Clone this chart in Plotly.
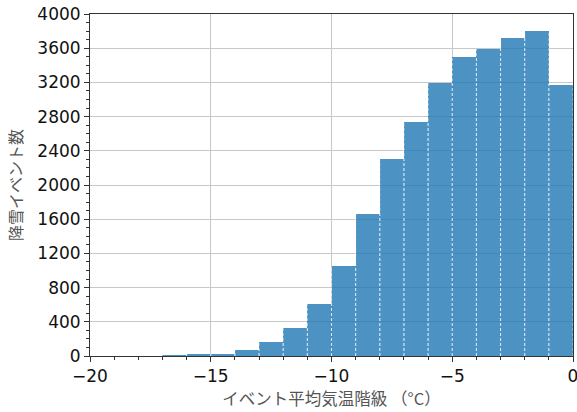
import plotly.graph_objects as go

bin_left = [-20, -19, -18, -17, -16, -15, -14, -13, -12, -11,
            -10, -9, -8, -7, -6, -5, -4, -3, -2, -1]
counts = [0, 0, 2, 10, 25, 28, 75, 160, 325, 605,
          1050, 1660, 2300, 2735, 3190, 3500, 3595, 3720, 3805, 3175]
y_ticks = list(range(0, 4001, 400))
x_ticks = [-20, -15, -10, -5, 0]

bar_color = "rgba(31,119,180,0.8)"

fig = go.Figure()
fig.add_trace(go.Bar(
    x=[b + 0.5 for b in bin_left], y=counts, width=1,
    marker=dict(color=bar_color, line=dict(width=0)),
    hoverinfo="skip", showlegend=False,
))

# dashed light bar edges
ex, ey = [], []
for i, b in enumerate(bin_left):
    if counts[i] <= 0:
        continue
    for e in (b, b + 1):
        ex += [e, e, None]
        ey += [0, counts[i], None]
fig.add_trace(go.Scatter(
    x=ex, y=ey, mode="lines",
    line=dict(color="rgba(255,255,255,0.55)", width=1, dash="3px,2px"),
    hoverinfo="skip", showlegend=False,
))

fig.update_layout(
    width=577, height=412,
    margin=dict(l=90, r=4, t=14, b=56),
    paper_bgcolor="white", plot_bgcolor="white",
    bargap=0,
    font=dict(family="DejaVu Sans", color="black", size=17),
)
fig.update_xaxes(
    range=[-20, 0], tickvals=x_ticks, ticktext=[("−" + str(-v)) if v < 0 else str(v) for v in x_ticks],
    showgrid=True, gridcolor="#c8c8c8", gridwidth=1,
    showline=True, linecolor="#333333", linewidth=1, mirror=True,
    ticks="outside", ticklen=5, tickcolor="#333333",
    minor=dict(dtick=1, ticks="outside", ticklen=3, tickcolor="#333333", showgrid=False),
    zeroline=False, automargin=False, ticklabeloverflow="allow",
    tickfont=dict(family="DejaVu Sans", size=17, color="#111111"),
    title=dict(text="イベント平均気温階級 （°C）", font=dict(family="Noto Sans CJK JP", size=16.5, color="#555555"), standoff=4),
)
fig.update_yaxes(
    range=[0, 4000], tickvals=y_ticks,
    showgrid=True, gridcolor="#c8c8c8", gridwidth=1,
    showline=True, linecolor="#333333", linewidth=1, mirror=True,
    ticks="outside", ticklen=5, tickcolor="#333333",
    minor=dict(dtick=100, ticks="outside", ticklen=3, tickcolor="#333333", showgrid=False),
    zeroline=False, automargin=False,
    tickfont=dict(family="DejaVu Sans", size=17, color="#111111"),
    title=dict(text="降雪イベント数", font=dict(family="Noto Sans CJK JP", size=16, color="#555555"), standoff=10),
)

fig.write_html("out.html")
